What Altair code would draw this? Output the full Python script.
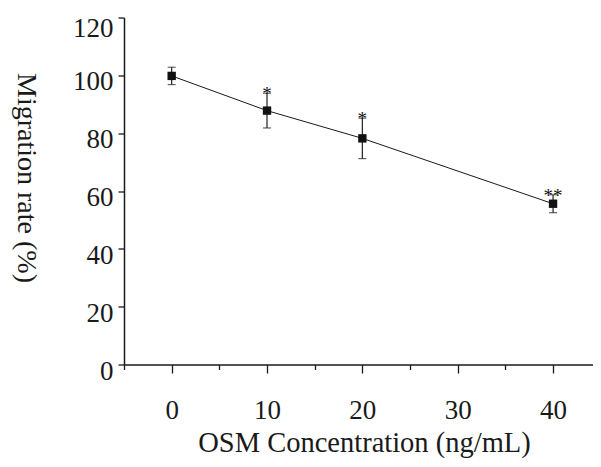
import altair as alt
import pandas as pd

# Data
conc = [0, 10, 20, 40]
rate = [99.8, 87.8, 78.2, 55.6]
err = [3.0, 6.0, 7.0, 3.1]
stars = ["", "*", "*", "**"]

df = pd.DataFrame({
    "conc": conc,
    "rate": rate,
    "lo": [r - e for r, e in zip(rate, err)],
    "hi": [r + e for r, e in zip(rate, err)],
    "star": stars,
})

FONT = "Liberation Serif"
INK = "#1a1a1a"

x_axis = alt.Axis(
    values=[-5, 0, 5, 10, 15, 20, 25, 30, 35, 40],
    labelExpr="datum.value >= 0 && datum.value % 10 == 0 ? datum.label : ''",
    tickSize={"condition": {"test": "datum.value % 10 != 0", "value": 5}, "value": 8.5},
    labelPadding=24,
    labelFontSize=27,
    labelFont=FONT,
    labelColor=INK,
    title="OSM Concentration (ng/mL)",
    titleFont=FONT,
    titleFontSize=28.5,
    titleFontWeight="normal",
    titleColor=INK,
    titleX=240,
    titleY=87,
    titleBaseline="alphabetic",
    titleAnchor="middle",
    titleAlign="center",
    domainColor=INK,
    domainWidth=1.5,
    tickColor=INK,
    tickWidth=1.3,
    grid=False,
)

y_axis = alt.Axis(
    values=list(range(0, 121, 10)),
    labelExpr="datum.value % 20 == 0 ? datum.label : ''",
    tickSize={"condition": {"test": "datum.value % 20 != 0", "value": 4.5}, "value": 6},
    labelPadding=5,
    labelFontSize=27,
    labelFont=FONT,
    labelColor=INK,
    labelOffset={"condition": {"test": "datum.value == 120", "value": 11}, "value": 6.5},
    title="Migration rate (%)",
    titleFont=FONT,
    titleFontSize=28,
    titleFontWeight="normal",
    titleColor=INK,
    titleAngle=90,
    titleX=-99,
    titleY=160,
    titleBaseline="middle",
    titleAlign="center",
    domainColor=INK,
    domainWidth=1.5,
    tickColor=INK,
    tickWidth=1.3,
    grid=False,
)

xs = alt.Scale(domain=[-5, 44.19], nice=False, zero=False)
ys = alt.Scale(domain=[0, 120], nice=False)

base = alt.Chart(df)

line = base.mark_line(color=INK, strokeWidth=1).encode(
    x=alt.X("conc:Q", scale=xs, axis=x_axis),
    y=alt.Y("rate:Q", scale=ys, axis=y_axis),
)

bars = base.mark_rule(color="#222222", strokeWidth=1.2).encode(
    x=alt.X("conc:Q", scale=xs),
    y=alt.Y("lo:Q", scale=ys),
    y2="hi:Q",
)

cap_hi = base.mark_tick(color="#222222", orient="horizontal", size=8, thickness=1.2).encode(
    x=alt.X("conc:Q", scale=xs),
    y=alt.Y("hi:Q", scale=ys),
)
cap_lo = base.mark_tick(color="#222222", orient="horizontal", size=8, thickness=1.2).encode(
    x=alt.X("conc:Q", scale=xs),
    y=alt.Y("lo:Q", scale=ys),
)

pts = base.mark_point(shape="square", filled=True, size=70, color="#111111", opacity=1).encode(
    x=alt.X("conc:Q", scale=xs),
    y=alt.Y("rate:Q", scale=ys),
)

txt = base.mark_text(font=FONT, fontSize=19, color="#111111", baseline="alphabetic", dy=7).encode(
    x=alt.X("conc:Q", scale=xs),
    y=alt.Y("hi:Q", scale=ys),
    text="star:N",
)

chart = alt.layer(line, bars, cap_hi, cap_lo, pts, txt).properties(
    width=469,
    height=347,
    autosize=alt.AutoSizeParams(type="none"),
    padding={"left": 116, "top": 9.5, "right": 0, "bottom": 94.5},
    background="white",
).configure_view(stroke=None)

chart.save("out.html", embed_options={"renderer": "svg", "actions": False})
